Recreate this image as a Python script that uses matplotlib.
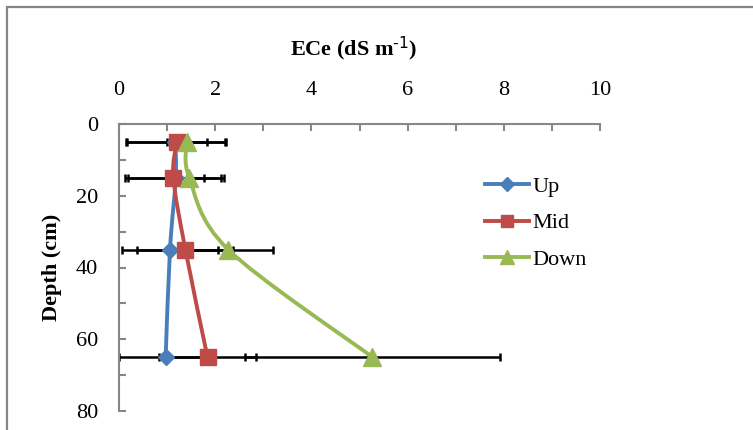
import matplotlib.pyplot as plt
from matplotlib.path import Path
from matplotlib.patches import PathPatch, Rectangle
from matplotlib.lines import Line2D

plt.rcParams['font.family'] = 'Liberation Serif'
plt.rcParams['mathtext.default'] = 'regular'

depth = [5, 15, 35, 65]
up_ece = [1.17, 1.18, 1.06, 0.97]
up_err = [1.03, 1.0, 1.0, 0.97]
mid_ece = [1.2, 1.13, 1.38, 1.84]
mid_err = [1.03, 1.0, 1.0, 1.0]
down_ece = [1.41, 1.46, 2.27, 5.27]
down_err = [0.42, 0.31, 0.93, 2.65]

series = [('Up', up_ece, up_err, '#4A7EBB', 'D', 8.5),
          ('Mid', mid_ece, mid_err, '#BE4B48', 's', 11),
          ('Down', down_ece, down_err, '#98B954', '^', 12.5)]


def smooth_path(xs, ys):
    # catmull-rom style bezier through the points (like excel smoothed line)
    pts = list(zip(xs, ys))
    ext = [pts[0]] + pts + [pts[-1]]
    verts = [pts[0]]
    codes = [Path.MOVETO]
    for i in range(1, len(ext) - 2):
        p0, p1, p2, p3 = ext[i - 1], ext[i], ext[i + 1], ext[i + 2]
        c1 = (p1[0] + (p2[0] - p0[0]) / 6, p1[1] + (p2[1] - p0[1]) / 6)
        c2 = (p2[0] - (p3[0] - p1[0]) / 6, p2[1] - (p3[1] - p1[1]) / 6)
        verts += [c1, c2, p2]
        codes += [Path.CURVE4] * 3
    return Path(verts, codes)


fig = plt.figure(figsize=(7.53, 4.3), dpi=100)
ax = fig.add_axes([119 / 753, 1 - 411 / 430, 481 / 753, 287 / 430])

grey = '#868686'
fig.patches.append(Rectangle((7 / 753, -0.2), 1.5, 1 - 7 / 430 + 0.2, transform=fig.transFigure,
                             fill=False, edgecolor=grey, lw=1.6))

for name, x, err, col, mk, ms in series:
    ax.errorbar(x, depth, xerr=err, fmt='none', ecolor='black', elinewidth=1.8,
                capsize=3, capthick=1.8, zorder=2)

handles = []
for name, x, err, col, mk, ms in series:
    ax.add_patch(PathPatch(smooth_path(x, depth), fill=False, edgecolor=col, lw=2.8,
                           zorder=3, capstyle='round'))
    ax.plot(x, depth, ls='none', marker=mk, ms=ms, color=col, zorder=4)
    handles.append(Line2D([], [], color=col, lw=2.8, marker=mk, ms=ms * 0.85, label=name))

ax.set_xlim(0, 10)
ax.set_ylim(80, 0)
ax.xaxis.tick_top()
ax.set_xticks(range(0, 11, 2))
ax.set_xticks(range(0, 11), minor=True)
ax.set_yticks(range(0, 81, 20))
ax.set_yticks(range(0, 81, 10), minor=True)
ax.tick_params(which='both', direction='in', length=5, width=1.5, color=grey, labelsize=16)
ax.tick_params(axis='x', pad=17)
ax.tick_params(axis='y', pad=15)
for s in ['right', 'bottom']:
    ax.spines[s].set_visible(False)
for s in ['left', 'top']:
    ax.spines[s].set_color(grey)
    ax.spines[s].set_linewidth(1.5)

ax.set_ylabel('Depth (cm)', fontsize=16, fontweight='bold', labelpad=10)
fig.text(354 / 753, 1 - 48 / 430, r'ECe (dS m$^{\text{-1}}$)', fontsize=16, fontweight='bold',
         ha='center', va='center')

fig.legend(handles=handles, loc='center left', bbox_to_anchor=(485 / 753, 1 - 223 / 430),
           frameon=False, fontsize=16, handlelength=2.0, handletextpad=0.15,
           labelspacing=0.71, borderpad=0, borderaxespad=0)

fig.savefig('out.png', dpi=100)
